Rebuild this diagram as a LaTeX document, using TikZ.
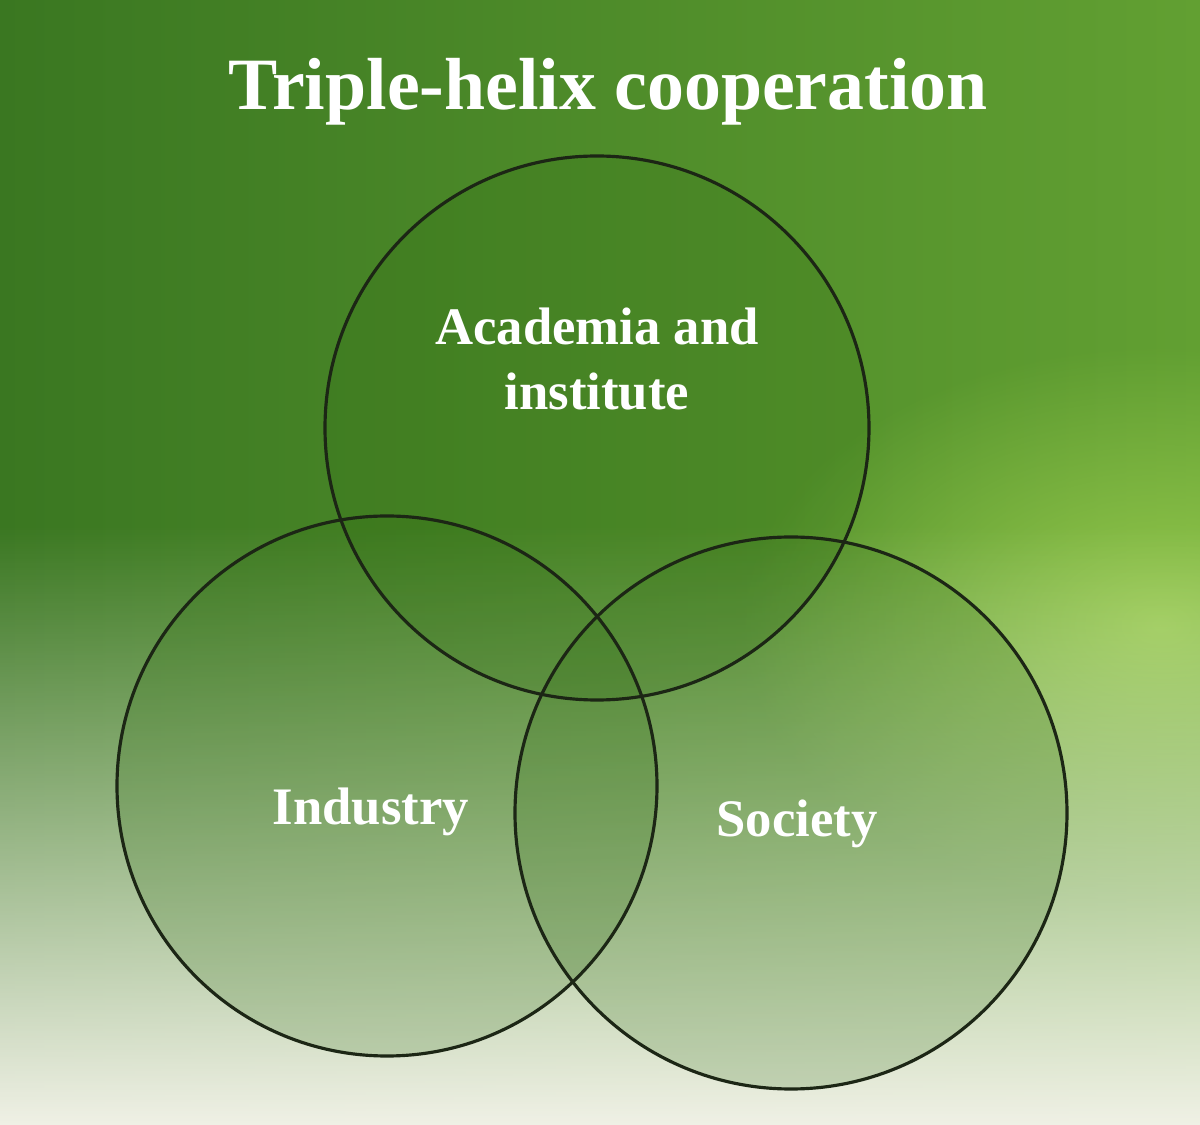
\documentclass[tikz,border=0pt]{standalone}
\usepackage{fontspec}
\setmainfont{Liberation Serif}
\usepackage{tikz}
\usetikzlibrary{fadings}

\tikzfading[name=fadeup, top color=transparent!100, middle color=transparent!35, bottom color=transparent!0]
\tikzfading[name=fadeblob, inner color=transparent!0, outer color=transparent!100]

\begin{document}
\begin{tikzpicture}

% Colori
\definecolor{bgDark}{HTML}{3A7721}
\definecolor{bgRight}{HTML}{62A032}
\definecolor{bgLime}{HTML}{96C94E}
\definecolor{bgPale}{HTML}{F0F1E6}
\definecolor{fillGreen}{HTML}{2E6A12}
\definecolor{lineDark}{HTML}{1C2615}

\tikzset{
  helix/.style={fill=fillGreen, fill opacity=0.2},
  helixline/.style={draw=lineDark, line width=0.9pt},
  lbl/.style={text=white, font=\fontsize{15}{18.5}\selectfont\bfseries, align=center}
}

\useasboundingbox (0,0) rectangle (12,11.25);

% Sfondo
\shade[left color=bgDark, right color=bgRight] (0,0) rectangle (12,11.25);
\fill[bgLime, path fading=fadeblob] (11.6,5.0) ellipse (4.2 and 2.8);
\fill[bgPale, path fading=fadeup] (0,0) rectangle (12,6.0);

% Titolo
\node[text=white, font=\fontsize{21}{25}\selectfont\bfseries] (title) at (6.08,10.33) {Triple-helix cooperation};

% Cerchi
\coordinate (cAcad) at (5.97,6.97);
\coordinate (cInd) at (3.87,3.39);
\coordinate (cSoc) at (7.91,3.12);

\fill[helix] (cAcad) circle (2.72);
\fill[helix] (cInd) circle (2.70);
\fill[helix] (cSoc) circle (2.76);

\draw[helixline] (cAcad) circle (2.72);
\draw[helixline] (cInd) circle (2.70);
\draw[helixline] (cSoc) circle (2.76);

% Etichette
\node[lbl] (acad) at (5.97,7.66) {Academia and\\institute};
\node[lbl] (ind) at (3.71,3.13) {Industry};
\node[lbl] (soc) at (7.97,3.01) {Society};

\end{tikzpicture}
\end{document}
